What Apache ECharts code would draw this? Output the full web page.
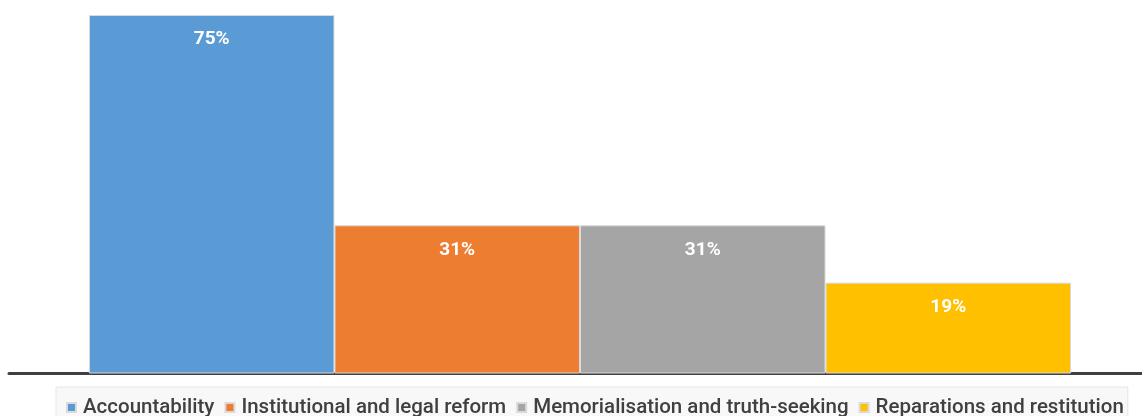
<!DOCTYPE html>
<html>
<head>
<meta charset="utf-8">
<script src="https://cdn.jsdelivr.net/npm/echarts@6/dist/echarts.min.js"></script>
<style>
html,body{margin:0;padding:0;background:#fff;}
#chart{width:1142px;height:416px;}
</style>
</head>
<body>
<div id="chart"></div>
<script>
const categories = [''];
const seriesNames = ['Accountability', 'Institutional and legal reform', 'Memorialisation and truth-seeking', 'Reparations and restitution'];
const seriesValues = [75, 31, 31, 19];
const seriesColors = ['#5b9bd5', '#ed7d31', '#a5a5a5', '#ffc000'];

const chart = echarts.init(document.getElementById('chart'));
chart.setOption({
  animation: false,
  textStyle: { fontFamily: 'Roboto' },
  grid: { left: 9, width: 1142, top: 15, bottom: 42.5, outerBoundsMode: 'none' },
  xAxis: {
    type: 'category',
    data: categories,
    axisLine: { lineStyle: { color: '#404040', width: 3 } },
    axisTick: { show: false },
    axisLabel: { show: false }
  },
  yAxis: {
    type: 'value',
    min: 0,
    max: 75,
    show: false,
    splitLine: { show: false }
  },
  legend: {
    left: 56,
    top: 387,
    padding: [10, 4, 10, 10],
    itemWidth: 9,
    itemHeight: 9,
    itemGap: 10,
    icon: 'rect',
    backgroundColor: '#f8f8f8',
    borderColor: '#e6e6e6',
    borderWidth: 1,
    textStyle: { fontFamily: 'Roboto', fontSize: 20.5, fontWeight: 500, color: '#404040', padding: [0, 0, 0, 2] },
    data: seriesNames
  },
  series: seriesNames.map((name, i) => ({
    name: name,
    type: 'bar',
    barGap: '0%',
    barCategoryGap: '14%',
    data: [seriesValues[i]],
    itemStyle: { color: seriesColors[i], borderColor: '#dadada', borderWidth: 1 },
    label: {
      show: true,
      position: 'insideTop',
      distance: 15,
      formatter: '{c}%',
      color: '#ffffff',
      fontFamily: 'Roboto',
      fontWeight: 'bold',
      fontSize: 19
    }
  }))
});
</script>
</body>
</html>
